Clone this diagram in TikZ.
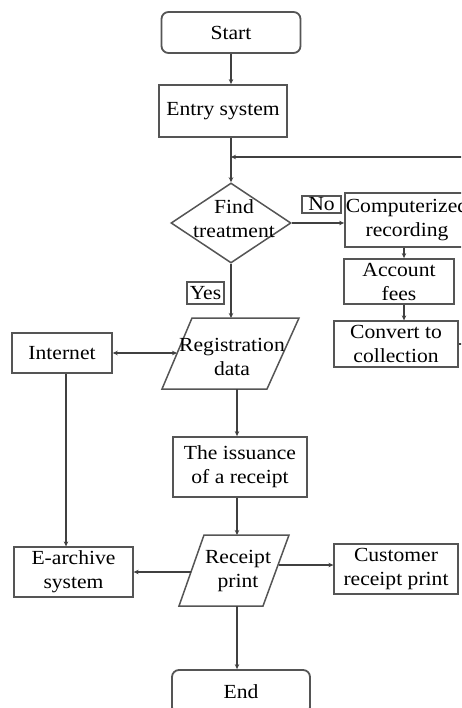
\documentclass[tikz,border=0pt]{standalone}
\usepackage{fontspec}
\setmainfont{Liberation Serif}[FakeStretch=1.08]
\usetikzlibrary{arrows.meta,shapes.geometric}
\definecolor{edge}{HTML}{555555}
\definecolor{wire}{HTML}{404040}
\tikzset{
  box/.style={draw=edge,line width=1.8pt,inner sep=0pt,align=center,fill=white},
  rbox/.style={box,rounded corners=7pt},
  tag/.style={draw=edge,line width=1.2pt,inner sep=0pt,align=center},
  txt/.style={inner sep=0pt,align=center},
  arr/.style={draw=wire,line width=1.5pt,-{Stealth[length=5pt,width=4.5pt]}},
  darr/.style={draw=wire,line width=1.5pt,{Stealth[length=5pt,width=4.5pt]}-{Stealth[length=5pt,width=4.5pt]}},
}
\begin{document}
\begin{tikzpicture}[x=1pt,y=-1pt,font=\fontsize{20}{24}\selectfont]
\useasboundingbox (0,0) rectangle (461,708);
\clip (0,0) rectangle (461,708);
% nodes
\node[rbox,minimum width=139pt,minimum height=41pt] (start) at (231,32.5) {Start};
\node[box,minimum width=128pt,minimum height=52pt] (entry) at (223,111) {Entry system};
\node[diamond,draw=edge,line width=1.5pt,minimum width=120pt,minimum height=80pt,inner sep=0pt] (find) at (231,223) {};
\node[txt] (findt) at (234,219) {Find\\treatment};
\node[tag,minimum width=39pt,minimum height=17pt] (no) at (321.5,204.5) {No};
\node[box,minimum width=124pt,minimum height=54pt] (comp) at (407,220) {Computerized\\recording};
\node[box,minimum width=110pt,minimum height=45pt] (acc) at (399,281.5) {Account\\fees};
\node[box,line width=1.3pt,minimum width=124pt,minimum height=46pt] (conv) at (396,344) {Convert to\\collection};
\coordinate (fb) at (231,157);
\node[tag,minimum width=37pt,minimum height=22pt] (yes) at (205.5,293) {Yes};
% registration parallelogram
\draw[edge,line width=1.5pt] (192,318) -- (299,318) -- (267,389) -- (162,389) -- cycle;
\node[txt] (reg) at (232,357) {Registration\\data};
\coordinate (regtop) at (231,318);
\coordinate (regleft) at (177,353);
\coordinate (regbot) at (237,389);
\node[box,line width=1.5pt,minimum width=100pt,minimum height=40pt] (inet) at (62,353) {Internet};
\node[box,minimum width=134pt,minimum height=60pt] (iss) at (240,467) {The issuance\\of a receipt};
% receipt print parallelogram
\draw[edge,line width=1.5pt] (204,535) -- (289,535) -- (263,606) -- (179,606) -- cycle;
\node[txt] (rcp) at (238,571) {Receipt\\print};
\coordinate (rcptop) at (237,535);
\coordinate (rcpL) at (191,572);
\coordinate (rcpR) at (279,565);
\coordinate (rcpbot) at (237,606);
\node[box,line width=1.3pt,minimum width=119pt,minimum height=50pt] (earch) at (73.5,572) {E-archive\\system};
\node[box,line width=1.3pt,minimum width=124pt,minimum height=50pt] (cust) at (396,569) {Customer\\receipt print};
\node[rbox,minimum width=138pt,minimum height=44pt] (end) at (241,692) {End};
% connectors
\draw[arr] (start.south) -- (entry.north -| start.south);
\draw[arr] (entry.south -| find.north) -- (find.north);
\draw[arr] (conv.east) -- ++(14,0) |- (fb);
\draw[arr] (find.east) -- (find.east -| comp.west);
\draw[arr] ([xshift=5pt]acc.north |- comp.south) -- ([xshift=5pt]acc.north);
\draw[arr] ([xshift=5pt]acc.south) -- ([xshift=5pt]acc.south |- conv.north);
\draw[arr] (find.south) -- (regtop);
\draw[darr] (inet.east) -- (regleft);
\draw[arr] (regbot) -- (regbot |- iss.north);
\draw[arr] ([xshift=4pt]inet.south) -- ([xshift=4pt]inet.south |- earch.north);
\draw[arr] (iss.south -| rcptop) -- (rcptop);
\draw[arr] (rcpL) -- (earch.east);
\draw[arr] (rcpR) -- (rcpR -| cust.west);
\draw[arr] (rcpbot) -- (rcpbot |- end.north);
\end{tikzpicture}
\end{document}
